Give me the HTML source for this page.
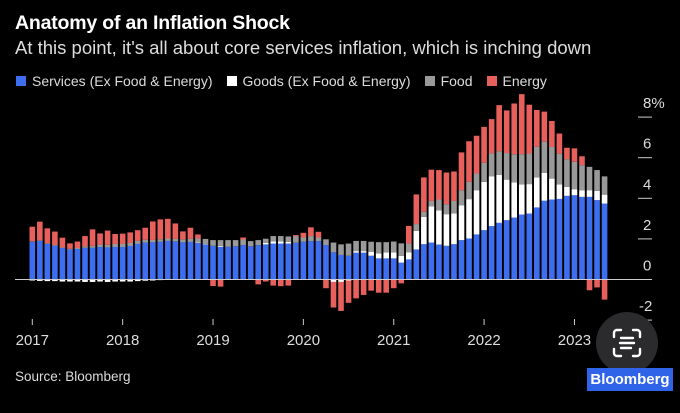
<!DOCTYPE html>
<html><head><meta charset="utf-8"><style>
body{margin:0;background:#000;width:680px;height:413px;overflow:hidden;font-family:"Liberation Sans",sans-serif;color:#fff}
.abs{position:absolute}
</style></head><body>
<div class="abs" style="left:15px;top:12px;font-size:19.5px;font-weight:bold;letter-spacing:-0.2px">Anatomy of an Inflation Shock</div>
<div class="abs" style="left:15px;top:37px;font-size:18.5px;color:#ddd;white-space:nowrap">At this point, it's all about core services inflation, which is inching down</div>
<div class="abs" style="left:16px;top:73px;font-size:14px;color:#ddd;display:flex;align-items:center;white-space:nowrap">
<span style="display:flex;align-items:center"><i style="display:inline-block;width:10px;height:10px;background:#3d6ef0;margin-right:6px"></i>Services (Ex Food &amp; Energy)</span>
<span style="display:flex;align-items:center;margin-left:14px"><i style="display:inline-block;width:10px;height:10px;background:#fff;margin-right:6px"></i>Goods (Ex Food &amp; Energy)</span>
<span style="display:flex;align-items:center;margin-left:14px"><i style="display:inline-block;width:10px;height:10px;background:#999;margin-right:6px"></i>Food</span>
<span style="display:flex;align-items:center;margin-left:14px"><i style="display:inline-block;width:10px;height:10px;background:#e8605c;margin-right:6px"></i>Energy</span>
</div>
<svg id="chart" class="abs" style="left:0;top:0" width="680" height="413"></svg>
<div class="abs" style="left:15px;top:369px;font-size:13.5px;color:#ddd">Source: Bloomberg</div>
<div class="abs" style="left:596px;top:312px;width:62px;height:62px;border-radius:50%;background:#2b2b2d"></div>
<svg class="abs" style="left:611px;top:327px" width="32" height="32" viewBox="0 0 32 32" fill="none" stroke="#fff" stroke-width="2.4" stroke-linecap="round">
<path d="M3 10V6a3 3 0 0 1 3-3h4M22 3h4a3 3 0 0 1 3 3v4M29 22v4a3 3 0 0 1-3 3h-4M10 29H6a3 3 0 0 1-3-3v-4M10 11h12M9 16h14M10 21h10"/></svg>
<div class="abs" style="left:587px;top:368px;width:86px;height:23px;background:#2f64e8;font-size:15px;font-weight:bold;line-height:23px;text-align:center">Bloomberg</div>
<script>
const services=[1.86,1.90,1.75,1.67,1.55,1.48,1.50,1.56,1.56,1.60,1.58,1.60,
1.60,1.65,1.75,1.81,1.83,1.86,1.90,1.88,1.83,1.85,1.80,1.73,
1.66,1.61,1.61,1.64,1.69,1.64,1.69,1.73,1.77,1.77,1.77,1.81,
1.86,1.89,1.89,1.70,1.34,1.21,1.17,1.32,1.32,1.17,1.04,1.04,
1.04,0.83,0.99,1.48,1.74,1.82,1.72,1.66,1.74,1.94,2.02,2.22,
2.43,2.63,2.79,2.92,3.05,3.20,3.25,3.55,3.88,3.94,3.97,4.12,
4.15,4.07,4.07,3.91,3.74];
const goods=[-0.05,-0.07,-0.08,-0.08,-0.1,-0.1,-0.1,-0.12,-0.12,-0.1,-0.12,-0.1,
-0.1,-0.1,-0.08,-0.06,-0.05,-0.03,-0.02,0,0,0,0.02,0.02,
0,0.05,0,0,0,0,0,0.08,0.1,0.1,0.08,0,
0,0,0,0,-0.12,-0.12,-0.05,0.08,0.08,0.2,0.25,0.3,
0.3,0.33,0.34,0.92,1.35,1.79,1.69,1.56,1.51,1.72,1.94,2.18,
2.38,2.46,2.36,2.0,1.74,1.49,1.45,1.48,1.38,1.03,0.72,0.44,
0.3,0.33,0.33,0.46,0.44];
const food=[0.02,0.03,0.03,0.03,0.03,0.03,0.05,0.07,0.1,0.12,0.13,0.15,
0.15,0.15,0.15,0.15,0.12,0.12,0.12,0.12,0.15,0.15,0.2,0.25,
0.28,0.28,0.33,0.3,0.28,0.25,0.25,0.2,0.27,0.27,0.27,0.33,
0.21,0.25,0.18,0.28,0.48,0.52,0.6,0.5,0.5,0.49,0.55,0.5,
0.53,0.62,0.44,0.33,0.25,0.26,0.53,0.49,0.62,0.74,0.85,0.82,
0.94,1.12,1.17,1.31,1.38,1.48,1.51,1.51,1.53,1.56,1.51,1.36,
1.35,1.23,1.15,1.02,0.9];
const energy=[0.72,0.92,0.74,0.66,0.48,0.27,0.32,0.51,0.81,0.55,0.70,0.49,
0.51,0.52,0.53,0.59,0.91,0.98,0.97,0.76,0.39,0.55,0.2,0,
-0.32,-0.35,0,0,0.1,0,-0.24,-0.1,-0.3,-0.33,-0.3,0.05,
0.23,0.43,0.28,-0.43,-1.26,-1.43,-1.1,-0.93,-0.76,-0.55,-0.65,-0.65,
-0.43,-0.19,0.87,1.46,1.69,1.54,1.45,1.56,1.45,1.86,2.0,1.86,
1.77,1.69,2.27,2.1,2.5,2.96,2.4,1.81,1.48,1.28,0.99,0.57,
0.66,0.44,-0.53,-0.39,-0.99];
const yTicks=[8,6,4,2,0,-2];
const yLabels=["8%","6","4","2","0","-2"];
const years=["2017","2018","2019","2020","2021","2022","2023"];

const svg=document.getElementById('chart');
const NS='http://www.w3.org/2000/svg';
const y0=279.5, ppu=20.3, x0=32.3, step=7.53, bw=5.6;
const yScale=v=>y0-v*ppu;
const xScale=i=>x0+i*step;
function mk(tag,attrs){const e=document.createElementNS(NS,tag);for(const k in attrs)e.setAttribute(k,attrs[k]);svg.appendChild(e);return e;}
const colors={services:'#3d6ef0',goods:'#ffffff',food:'#999999',energy:'#e8605c'};
for(let i=0;i<services.length;i++){
  let pos=0,neg=0;
  const comps=[['services',services[i]],['goods',goods[i]],['food',food[i]],['energy',energy[i]]];
  for(const [nm,v] of comps){
    if(!v) continue;
    let a,b;
    if(v>0){a=pos;b=pos+v;pos=b;}else{a=neg;b=neg+v;neg=b;}
    const r=mk('rect',{x:xScale(i)-bw/2,y:Math.min(yScale(a),yScale(b)),width:bw,height:Math.abs(yScale(a)-yScale(b)),fill:colors[nm]});
    
    
  }
}
const zl=mk('line',{x1:15,x2:652,y1:y0,y2:y0,stroke:'#ccc','stroke-width':1});


yTicks.forEach((t,k)=>{
  const y=yScale(t);
  const l=mk('line',{x1:638,x2:652,y1:y,y2:y,stroke:'#ccc','stroke-width':1});
  
  
  const tx=mk('text',{x:t<0?639:643,y:y-9,fill:'#ddd','font-size':15,'font-family':'Liberation Sans, sans-serif'});
  tx.textContent=yLabels[k];
  
  
});
years.forEach((yr,k)=>{
  const x=xScale(k*12);
  const l=mk('line',{x1:x,x2:x,y1:319,y2:325,stroke:'#ccc','stroke-width':1});
  
  
  const tx=mk('text',{x:x,y:345,fill:'#ddd','font-size':15,'text-anchor':'middle','font-family':'Liberation Sans, sans-serif'});
  tx.textContent=yr;
  
  
});
</script>
</body></html>
